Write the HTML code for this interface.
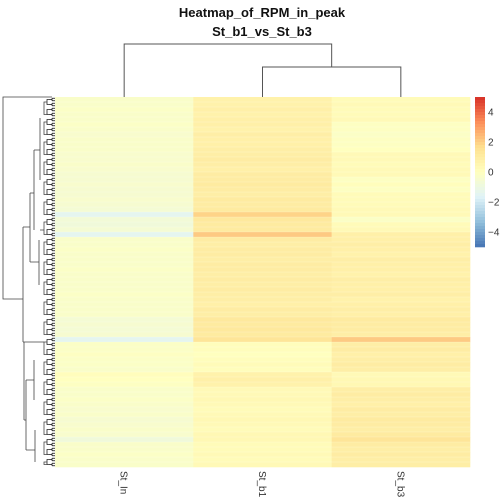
<!DOCTYPE html>
<html><head><meta charset="utf-8"><style>
body{margin:0;background:#fff;}
svg{display:block;font-family:"Liberation Sans",sans-serif;}
</style></head><body>
<svg id="chart" width="504" height="504" viewBox="0 0 504 504">
<text x="262" y="17" text-anchor="middle" font-size="13" font-weight="bold" fill="#111">Heatmap_of_RPM_in_peak</text>
<text x="262" y="36" text-anchor="middle" font-size="13" font-weight="bold" fill="#111">St_b1_vs_St_b3</text>
<g id="cells"></g>
<g id="coldend" stroke="#555" fill="none" stroke-width="1"></g>
<g id="rowdend" stroke="#444" fill="none" stroke-width="0.8"></g>
<g id="legend"></g>
<g id="collabels"></g>
</svg>
<script>
const columns = ["St_In","St_b1","St_b3"];
const valsIn = [-0.3,-0.3,-0.2,-0.3,-0.3,-0.2,-0.3,-0.4,-0.3,-0.3,-0.3,-0.4,-0.4,-0.3,-0.4,-0.5,-0.5,-0.4,-0.5,-0.5,-0.4,-0.5,-0.6,-1.4,-0.7,-0.8,-0.6,-1.4,-0.3,-0.3,-0.2,-0.3,-0.3,-0.3,-0.2,-0.3,-0.3,-0.3,-0.3,-0.2,-0.3,-0.3,-0.3,-0.3,-0.6,-0.5,-0.6,-0.5,-1.4,-0.2,-0.2,-0.1,-0.2,-0.2,-0.3,0.1,0.0,-0.1,-0.3,-0.3,-0.2,-0.3,-0.4,-0.3,-0.5,-0.4,-0.3,-0.4,-0.8,-0.3,-0.3,-0.2,-0.3,-0.3];
const valsB1 = [0.7,0.7,0.8,0.7,0.8,0.8,0.7,0.9,0.8,0.8,0.9,0.9,1.0,0.9,0.8,1.0,1.0,1.1,1.0,0.9,1.1,1.0,1.1,1.9,1.2,1.1,1.1,2.1,1.0,0.9,1.0,1.0,0.9,1.0,1.0,0.9,1.0,0.9,1.0,0.9,0.9,0.8,1.0,0.9,1.2,1.1,1.2,1.1,1.4,0.1,0.1,0.0,0.1,0.2,0.1,0.7,0.8,0.7,0.3,0.3,0.4,0.3,0.2,0.3,0.4,0.3,0.2,0.4,0.4,0.2,0.2,0.3,0.2,0.3];
const valsB3 = [0.2,0.3,0.2,0.2,0.3,-0.1,-0.1,-0.2,-0.1,-0.1,0.0,0.3,0.3,0.2,0.3,0.3,-0.1,0.1,-0.1,0.2,0.2,0.2,0.3,0.3,-0.2,0.2,0.3,0.8,0.8,0.9,0.8,0.7,0.9,0.8,0.8,0.7,0.9,0.8,0.8,0.9,0.7,0.8,0.9,0.8,1.1,1.0,1.0,0.9,2.1,0.9,1.0,0.8,0.9,1.0,0.9,0.3,0.4,0.4,0.9,1.0,0.9,0.8,1.0,0.9,1.1,1.0,0.9,1.1,1.4,1.0,0.9,1.0,0.9,0.9];
const legendTicks = [4,2,0,-2,-4];

const NS="http://www.w3.org/2000/svg";
const X0=55, X1=470, Y0=97, Y1=467, VMIN=-5, VMAX=5;
const nRows=valsIn.length, colW=(X1-X0)/columns.length, rowH=(Y1-Y0)/nRows;
const pal=["#4575B4","#91BFDB","#E0F3F8","#FFFFBF","#FEE090","#FC8D59","#D73027"];
function hex(c){return [1,3,5].map(i=>parseInt(c.substr(i,2),16));}
function color(v){
  let t=(v-VMIN)/(VMAX-VMIN); t=Math.max(0,Math.min(1,t));
  const p=t*(pal.length-1), i=Math.min(Math.floor(p),pal.length-2), f=p-i;
  const a=hex(pal[i]), b=hex(pal[i+1]);
  return "rgb("+a.map((x,k)=>Math.round(x+(b[k]-x)*f)).join(",")+")";
}
function xCol(i){return X0+i*colW;}
function yRow(r){return Y0+r*rowH;}
function el(tag,attrs,parent){const e=document.createElementNS(NS,tag);for(const k in attrs)e.setAttribute(k,attrs[k]);parent.appendChild(e);return e;}

const cells=document.getElementById("cells");
[valsIn,valsB1,valsB3].forEach((series,c)=>{
  series.forEach((v,r)=>{
    const rc=el("rect",{x:xCol(c),y:yRow(r),width:colW+0.3,height:rowH+0.3,fill:color(v)},cells);
    
    
  });
});
// faint row separators to mimic fine row texture
for(let r=1;r<nRows;r++){
  el("line",{x1:X0,x2:X1,y1:yRow(r),y2:yRow(r),stroke:"#ffffff","stroke-opacity":"0.35","stroke-width":"0.6"},cells);
}

const cd=document.getElementById("coldend");
const cx=i=>xCol(i)+colW/2;
el("path",{d:`M${cx(1)},${Y0} V67 H${cx(2)} V${Y0}`},cd);
el("path",{d:`M${cx(0)},${Y0} V44 H${(cx(1)+cx(2))/2} V67`},cd);

const rd=document.getElementById("rowdend");
el("path",{d:"M52,97 H3 V299 H23"},rd);
el("path",{d:"M23,227 V342"},rd);
el("path",{d:"M23,227 H30 M30,193 V262 M30,193 H34 M34,150 V230 M34,150 H40 M40,118 V180 M40,230 H44 M30,262 H39 M39,240 V285"},rd);
el("path",{d:"M23,342 H24 M24,342 V420 M24,342 H44 M24,420 H26 M26,380 V450 M26,380 H34 M34,360 V400 M26,450 H35 M35,430 V462"},rd);
const leafH=rowH/2;
for(let k=0;k<nRows*2;k++){
  const y=Y0+k*leafH+leafH/2;
  el("path",{d:`M${X0},${y} H52`,stroke:"#111"},rd);
}
for(let k=0;k<nRows*2;k+=2){
  const ya=Y0+k*leafH+leafH/2, yb=ya+leafH;
  el("path",{d:`M52,${ya} V${yb} M52,${(ya+yb)/2} H49`,stroke:"#111"},rd);
}
for(let r=0;r<nRows;r+=2){
  const ya=yRow(r)+rowH/2, yb=yRow(Math.min(r+1,nRows-1))+rowH/2;
  el("path",{d:`M49,${ya} H47 V${yb} H49`,stroke:"#222"},rd);
}
for(let r=0;r<nRows;r+=4){
  const ya=yRow(r)+rowH, yb=yRow(Math.min(r+3,nRows-1))+rowH/2;
  el("path",{d:`M47,${ya} H44 V${yb} H47`},rd);
}

const lg=document.getElementById("legend");
const LX=475, LW=10, LY0=97, LY1=247;
const nSteps=50;
for(let i=0;i<nSteps;i++){
  const v=VMAX-(i+0.5)*(VMAX-VMIN)/nSteps;
  el("rect",{x:LX,y:LY0+i*(LY1-LY0)/nSteps,width:LW,height:(LY1-LY0)/nSteps+0.3,fill:color(v)},lg);
}
const ly=v=>LY0+(VMAX-v)/(VMAX-VMIN)*(LY1-LY0);
legendTicks.forEach(t=>{
  const tx=el("text",{x:488,y:ly(t)+3.5,"font-size":"10",fill:"#333"},lg);
  tx.textContent=(t<0?"\u2212"+Math.abs(t):String(t));
  
  
});

const cl=document.getElementById("collabels");
columns.forEach((name,i)=>{
  const x=cx(i)-3.5, y=471;
  const t=el("text",{x:x,y:y,"font-size":"10",fill:"#333",transform:`rotate(90 ${x} ${y})`},cl);
  t.textContent=name;
  
  
});
</script>
</body></html>
